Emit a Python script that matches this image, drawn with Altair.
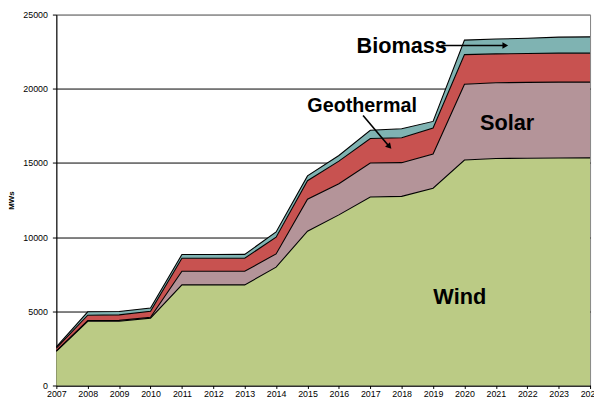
import altair as alt
import pandas as pd

years = list(range(2007, 2025))
sources = ["Wind", "Solar", "Geothermal", "Biomass"]
colors = ["#BBCB85", "#B49499", "#C85250", "#7FB3B2"]

wind = [2300, 4330, 4330, 4540, 6780, 6780, 6780, 7980, 10400, 11500, 12700, 12750, 13300, 15200, 15300, 15320, 15330, 15340]
solar = [40, 50, 60, 60, 920, 920, 920, 890, 2160, 2100, 2300, 2270, 2300, 5100, 5100, 5110, 5120, 5110]
geothermal = [180, 360, 370, 410, 880, 880, 880, 1130, 1240, 1520, 1650, 1680, 1750, 2000, 1950, 1950, 1950, 1950]
biomass = [80, 230, 230, 220, 250, 250, 260, 350, 330, 380, 550, 600, 450, 980, 1000, 1020, 1080, 1100]

y_ticks = [0, 5000, 10000, 15000, 20000, 25000]

# annotations (data coordinates)
label_text = ["Biomass", "Geothermal", "Solar", "Wind"]
label_x = [2018.0, 2016.74, 2021.36, 2019.85]
label_y = [22890, 18865, 17680, 5940]
label_size = [22, 20, 22, 22]

arrow_x = [2019.26, 2016.77]
arrow_y = [22920, 18206]
arrow_x2 = [2021.3, 2017.61]
arrow_y2 = [22920, 16095]
arrow_angle = [90, 138]

series = {"Wind": wind, "Solar": solar, "Geothermal": geothermal, "Biomass": biomass}
rows = []
for i, s in enumerate(sources):
    for y, v in zip(years, series[s]):
        rows.append({"year": y, "source": s, "value": v, "ord": i})
df = pd.DataFrame(rows)

labels_df = pd.DataFrame({"text": label_text, "x": label_x, "y": label_y, "size": label_size})
arrows_df = pd.DataFrame({"x": arrow_x, "y": arrow_y, "x2": arrow_x2, "y2": arrow_y2, "angle": arrow_angle})

xscale = alt.Scale(domain=[2007, 2024], nice=False, zero=False)
yscale = alt.Scale(domain=[0, 25000], nice=False)

xaxis = alt.Axis(values=years, format="d", title=None, grid=False, labelFont="Liberation Sans",
                 labelFontSize=9, labelColor="black", domainColor="black", tickColor="black",
                 tickSize=3, labelPadding=1, labelFlush=False, labelOverlap=False)
yaxis = alt.Axis(values=y_ticks, format="d", title="MWs", titleFont="Liberation Sans",
                 titleFontSize=8, titleFontWeight="bold", titleColor="black", titlePadding=7,
                 labelFont="Liberation Sans", labelFontSize=9, labelColor="black",
                 domainColor="black", tickColor="black", tickSize=4, labelPadding=5,
                 grid=True,
                 gridColor={"condition": {"test": "datum.value === 25000", "value": "#808080"}, "value": "black"},
                 gridWidth=1)

X = lambda f: alt.X(f, scale=xscale, axis=xaxis)
Y = lambda f: alt.Y(f, scale=yscale, axis=yaxis)

base = alt.Chart(df).transform_stack(
    stack="value", groupby=["year"], as_=["y0", "y1"], sort=[alt.SortField("ord", order="ascending")]
)

areas = base.mark_area(opacity=1).encode(
    x=X("year:Q"),
    y=Y("y1:Q"),
    y2="y0:Q",
    color=alt.Color("source:N", scale=alt.Scale(domain=sources, range=colors), legend=None),
)

lines = base.mark_line(color="black", strokeWidth=1.1).encode(
    x=X("year:Q"),
    y=Y("y1:Q"),
    detail="source:N",
)

texts = alt.Chart(labels_df).mark_text(font="Liberation Sans", fontWeight="bold", color="black",
                                       align="center", baseline="middle").encode(
    x=X("x:Q"),
    y=Y("y:Q"),
    text="text:N",
    size=alt.Size("size:Q", scale=None, legend=None),
)

arrow_lines = alt.Chart(arrows_df).mark_rule(color="black", strokeWidth=1.6).encode(
    x=X("x:Q"),
    y=Y("y:Q"),
    x2="x2:Q",
    y2="y2:Q",
)

arrow_heads = alt.Chart(arrows_df).mark_point(shape="triangle-up", filled=True, color="black",
                                              opacity=1, size=45).encode(
    x=X("x2:Q"),
    y=Y("y2:Q"),
    angle=alt.Angle("angle:Q", scale=None),
)

chart = alt.layer(areas, lines, arrow_lines, arrow_heads, texts).properties(
    width=541,
    height=376,
    autosize=alt.AutoSizeParams(type="none"),
    padding={"left": 49, "top": 4, "right": 4, "bottom": 11},
    background="white",
).configure_view(stroke="#808080", strokeWidth=1).configure_axisX(labelOverlap=False)

chart.save("out.html", embed_options={"renderer": "svg", "actions": False})
